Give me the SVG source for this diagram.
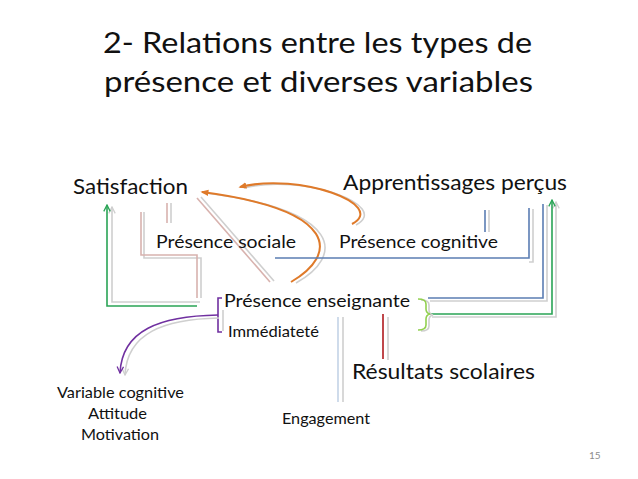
<svg xmlns="http://www.w3.org/2000/svg" width="638" height="479" viewBox="0 0 638 479">
<style>
text{font-family:Lato,"Open Sans","Liberation Sans",sans-serif;fill:#111}
.ln{fill:none;stroke-width:1.6}
.sh{fill:none;stroke:#cfcfcf;stroke-width:1.6}
.pk{stroke:#d8b2ae}
.bl{stroke:#5b7db3}
.gr{stroke:#2aa456}
.lg{stroke:#92d050}
.or{stroke:#df7a2a;stroke-width:2}
.pu{stroke:#7030a0}
.rd{stroke:#b0191e}
.lb{stroke:#c3d3e6}
</style>
<defs>
<marker id="aor" viewBox="0 0 10 10" refX="8" refY="5" markerWidth="8" markerHeight="8" markerUnits="userSpaceOnUse" orient="auto"><path d="M0,1 L10,5 L0,9 z" fill="#df7a2a"/></marker>
<marker id="agr" viewBox="0 0 10 10" refX="9" refY="5" markerWidth="8" markerHeight="8" markerUnits="userSpaceOnUse" orient="auto"><path d="M1,1 L9,5 L1,9" fill="none" stroke="#2aa456" stroke-width="1.6"/></marker>
<marker id="apu" viewBox="0 0 10 10" refX="9" refY="5" markerWidth="8" markerHeight="8" markerUnits="userSpaceOnUse" orient="auto"><path d="M1,1 L9,5 L1,9" fill="none" stroke="#7030a0" stroke-width="1.6"/></marker>
<marker id="agy" viewBox="0 0 10 10" refX="9" refY="5" markerWidth="8" markerHeight="8" markerUnits="userSpaceOnUse" orient="auto"><path d="M1,1 L9,5 L1,9" fill="none" stroke="#cfcfcf" stroke-width="1.6"/></marker>
</defs>
<rect width="638" height="479" fill="#fff"/>
<g id="title">
<text x="103" y="53" font-size="28" textLength="429" lengthAdjust="spacingAndGlyphs">2- Relations entre les types de</text>
<text x="104" y="92" font-size="28" textLength="429" lengthAdjust="spacingAndGlyphs">présence et diverses variables</text>
</g>
<g id="connectors">
<!-- green to Satisfaction -->
<path class="sh" d="M200,302 H112 V207" marker-end="url(#agy)"/>
<path class="ln gr" d="M197,306 H107 V205" marker-end="url(#agr)"/>
<!-- pink elbow -->
<path class="sh" d="M144,212 V258 H201 V298"/>
<path class="ln pk" d="M141,212 V255 H197 V298"/>
<!-- short pink pair -->
<path class="sh" d="M171,203 V223"/>
<path class="ln pk" d="M167,203 V223"/>
<!-- diagonal -->
<path class="sh" d="M201,197 L274,281"/>
<path class="ln pk" d="M197,198 L270,282"/>
<!-- orange arcs -->
<path class="sh" d="M296,283 C344,256 344,211 206,193"/>
<path class="ln or" d="M291,282 C338,255 340,210 202,192" marker-end="url(#aor)"/>
<path class="sh" d="M356,225 C392,206 304,173 244,188"/>
<path class="ln or" d="M352,224 C388,205 300,172 240,187" marker-end="url(#aor)"/>
<!-- blue from présence sociale to apprentissages -->
<path class="sh" d="M529,262 H533 V209"/>
<path class="ln bl" d="M275,258 H529 V208"/>
<!-- short blue pair -->
<path class="sh" d="M489,210 V232"/>
<path class="ln bl" d="M485,210 V232"/>
<!-- blue from présence enseignante -->
<path class="sh" d="M430,301 H547 V205"/>
<path class="ln bl" d="M428,298 H543 V204"/>
<!-- green from bracket -->
<path class="sh" d="M432,317 H556 V202" marker-end="url(#agy)"/>
<path class="ln gr" d="M430,314 H552 V200" marker-end="url(#agr)"/>
<!-- light green bracket -->
<path class="sh" d="M421,300 Q429,300 429,305 V310 Q429,314 433,315 Q429,316 429,320 V326 Q429,331 421,331"/>
<path class="ln lg" d="M418,299 Q426,299 426,304 V309 Q426,313 430,314 Q426,315 426,319 V325 Q426,330 418,330"/>
<!-- purple bracket and arrow -->
<path class="sh" d="M223,310 V331"/>
<path class="ln pu" d="M222,298 H218 V332 H222"/>
<path class="sh" d="M219,318 C164,319 127,333 125,375" marker-end="url(#agy)"/>
<path class="ln pu" d="M218,315 C160,316 122,330 120,373" marker-end="url(#apu)"/>
<!-- engagement -->
<path class="sh" d="M343,317 V402"/>
<path class="ln lb" d="M338,317 V402"/>
<!-- résultats -->
<path class="sh" d="M388,317 V360"/>
<path class="ln rd" d="M383,314 V359"/>
</g>
<g id="n-satisfaction"><text x="73" y="194" font-size="22" textLength="115" lengthAdjust="spacingAndGlyphs">Satisfaction</text></g>
<g id="n-apprentissages"><text x="343" y="190" font-size="21" textLength="224" lengthAdjust="spacingAndGlyphs">Apprentissages perçus</text></g>
<g id="n-sociale"><text x="156" y="248" font-size="18" textLength="140" lengthAdjust="spacingAndGlyphs">Présence sociale</text></g>
<g id="n-cognitive"><text x="339" y="248" font-size="18" textLength="159" lengthAdjust="spacingAndGlyphs">Présence cognitive</text></g>
<g id="n-enseignante"><text x="224" y="307" font-size="18" textLength="186" lengthAdjust="spacingAndGlyphs">Présence enseignante</text></g>
<g id="n-immediatete"><text x="228" y="337" font-size="15" textLength="91" lengthAdjust="spacingAndGlyphs">Immédiateté</text></g>
<g id="n-resultats"><text x="352" y="379" font-size="22" textLength="183" lengthAdjust="spacingAndGlyphs">Résultats scolaires</text></g>
<g id="n-variable">
<text x="57" y="398" font-size="15" textLength="127" lengthAdjust="spacingAndGlyphs">Variable cognitive</text>
<text x="88" y="419" font-size="15" textLength="59" lengthAdjust="spacingAndGlyphs">Attitude</text>
<text x="81" y="440" font-size="15" textLength="78" lengthAdjust="spacingAndGlyphs">Motivation</text>
</g>
<g id="n-engagement"><text x="282" y="424" font-size="15" textLength="88" lengthAdjust="spacingAndGlyphs">Engagement</text></g>
<g id="pagenum"><text x="589" y="459" font-size="10" style="fill:#8c8c8c">15</text></g>
</svg>
